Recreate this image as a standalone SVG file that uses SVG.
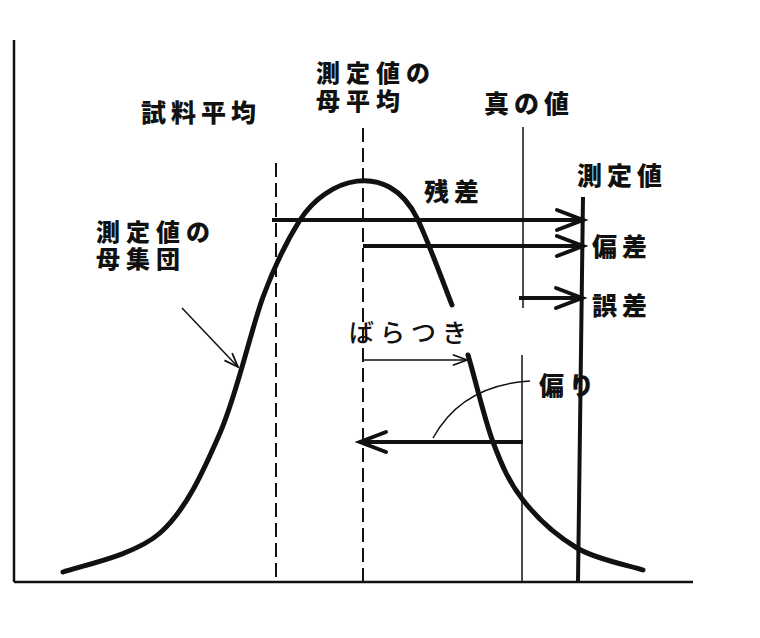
<svg xmlns="http://www.w3.org/2000/svg" width="760" height="638" viewBox="0 0 760 638">
<style>
.t{font-family:"Noto Sans CJK JP","Noto Sans CJK SC",sans-serif;font-size:25px;font-weight:900;letter-spacing:5px;fill:#111}
.s{font-size:24px;letter-spacing:6px}
.k{font-weight:500;letter-spacing:6px}
.ax{stroke:#111;stroke-width:2.5;fill:none}
.dash{stroke:#111;stroke-width:2;stroke-dasharray:14 6;fill:none}
.thin{stroke:#111;stroke-width:1.5;fill:none}
.thick{stroke:#111;stroke-width:4;fill:none}
.curve{stroke:#111;stroke-width:5;fill:none;stroke-linecap:round}
</style>
<defs>
<marker id="chev" markerUnits="userSpaceOnUse" markerWidth="40" markerHeight="30" refX="0" refY="0" viewBox="-30 -15 34 30" orient="auto" overflow="visible">
<path d="M-26,-10 L0,0 L-26,10" fill="none" stroke="#111" stroke-width="4" stroke-linecap="round" stroke-linejoin="miter"/>
</marker>
<marker id="small" markerUnits="userSpaceOnUse" markerWidth="20" markerHeight="20" refX="0" refY="0" viewBox="-15 -8 17 16" orient="auto" overflow="visible">
<path d="M-12,-4.5 L0,0 L-12,4.5" fill="none" stroke="#111" stroke-width="1.5"/>
</marker>
</defs>
<rect width="760" height="638" fill="#fff"/>

<g id="axes">
<line class="ax" x1="14" y1="40" x2="14" y2="582"/>
<line class="ax" x1="14" y1="582" x2="693" y2="582"/>
</g>

<g id="sample-mean">
<line class="dash" x1="276" y1="163" x2="276" y2="582"/>
<text class="t" x="141" y="122">試料平均</text>
</g>

<g id="population-mean">
<line class="dash" x1="363" y1="128" x2="363" y2="582"/>
<text class="t s" x="316" y="82">測定値の</text>
<text class="t s" x="316" y="110">母平均</text>
</g>

<g id="true-value">
<line class="thin" x1="523" y1="127" x2="523" y2="308"/>
<line class="thin" x1="522" y1="355" x2="522" y2="582"/>
<text class="t" x="484" y="113">真の値</text>
</g>

<g id="measured-value">
<line x1="583" y1="197" x2="578" y2="582" stroke="#111" stroke-width="4"/>
<text class="t" x="577" y="185">測定値</text>
</g>

<g id="population">
<path class="curve" d="M63,572 C79,566 134,556 160,533 C186,510 203,472 220,433 C237,394 250,333 263,297 C276,262 288,239 300,220 C326,179 387,158 417,218 C427,238 446,290 452,305"/>
<path class="curve" d="M468,355 C475,378 484,418 493,442 C502,466 509,482 523,500 C537,518 557,536 577,548 C597,560 632,566 643,570"/>
<text class="t s" x="96" y="241">測定値の</text>
<text class="t s" x="96" y="268">母集団</text>
</g>

<g id="labels">
<text class="t" x="424" y="201">残差</text>
<text class="t" x="592" y="256">偏差</text>
<text class="t" x="592" y="315">誤差</text>
<text class="t k" x="349" y="342">ばらつき</text>
<text class="t" x="539" y="395">偏り</text>
</g>

<g id="connectors">
<line class="thick" x1="272" y1="220" x2="583" y2="220" marker-end="url(#chev)"/>
<line class="thick" x1="363" y1="246" x2="583" y2="246" marker-end="url(#chev)"/>
<line class="thick" x1="519" y1="298" x2="582" y2="298" marker-end="url(#chev)"/>
<line class="thin" x1="363" y1="360" x2="467" y2="360" marker-end="url(#small)"/>
<line class="thick" x1="523" y1="442" x2="360" y2="442" marker-end="url(#chev)"/>
<line class="thin" x1="182" y1="308" x2="238" y2="367" marker-end="url(#small)"/>
<path class="thin" d="M433,438 Q462,385 530,381"/>
</g>
</svg>
